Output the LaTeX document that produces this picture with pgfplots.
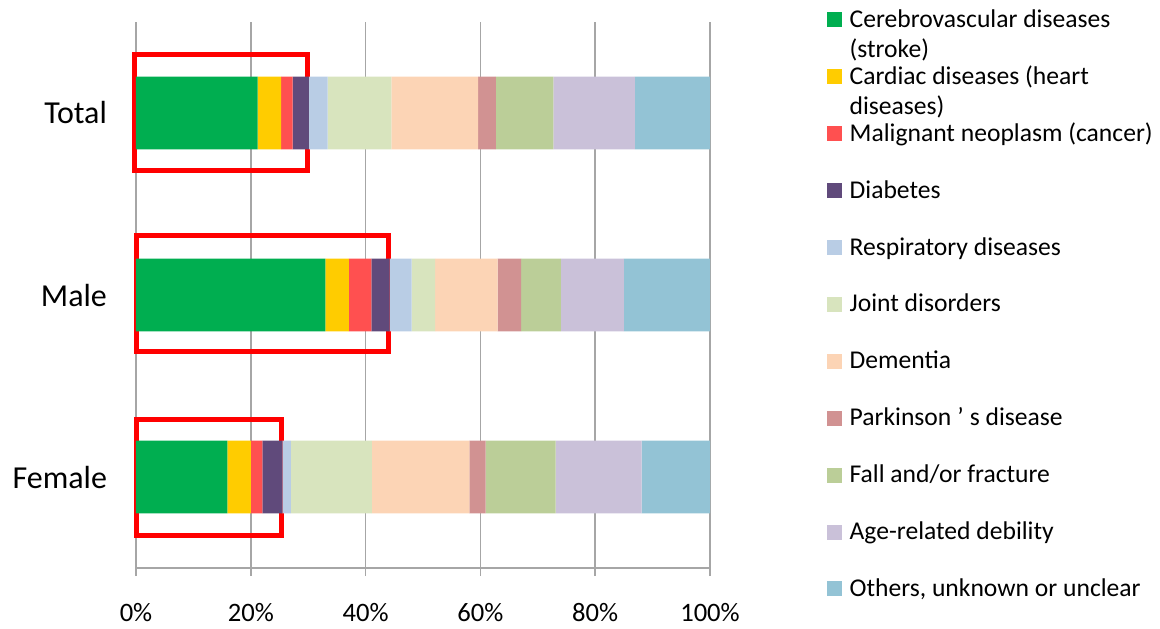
\documentclass[border=0pt]{standalone}
\usepackage{fontspec}
\setmainfont{Carlito}
\usepackage{pgfplots}
\pgfplotsset{compat=1.18}

\definecolor{cStroke}{HTML}{00AE50}
\definecolor{cCardiac}{HTML}{FFCC00}
\definecolor{cCancer}{HTML}{FF5050}
\definecolor{cDiab}{HTML}{604A7B}
\definecolor{cResp}{HTML}{B9CDE5}
\definecolor{cJoint}{HTML}{D8E4BE}
\definecolor{cDem}{HTML}{FCD4B5}
\definecolor{cPark}{HTML}{D19292}
\definecolor{cFall}{HTML}{BBCE98}
\definecolor{cAge}{HTML}{CAC1D9}
\definecolor{cOther}{HTML}{93C3D5}
\definecolor{gridgray}{HTML}{A6A6A6}

% legend entries: fixed height so wrapped lines hang below the row
\newcommand\lentry[1]{\raisebox{0pt}[9pt][3pt]{\begin{tabular}[t]{@{}l@{}}#1\end{tabular}}}

\begin{document}
\begin{tikzpicture}
\path (-68pt,-29pt) rectangle (512pt,284pt);
\begin{axis}[
  at={(0,0)}, anchor=south west,
  scale only axis,
  width=287pt, height=273pt,
  xbar stacked,
  bar width=0.4,
  xmin=0, xmax=100,
  ymin=-0.5, ymax=2.5,
  clip=false,
  axis x line*=bottom,
  axis y line*=left,
  axis line style={gridgray, line width=0.8pt},
  xtick={0,20,40,60,80,100},
  xticklabels={0\%,20\%,40\%,60\%,80\%,100\%},
  xticklabel style={font=\fontsize{13.3}{15}\selectfont, yshift=-10pt},
  ytick={0,1,2},
  yticklabels={Female,Male,Total},
  yticklabel style={font=\fontsize{16}{18}\selectfont, xshift=-7pt},
  minor ytick={-0.5,0.5,1.5,2.5},
  tick align=outside,
  xtick style={gridgray, line width=0.8pt},
  ytick style={draw=none},
  minor tick style={gridgray, line width=0.8pt, draw=gridgray},
  major tick length=4pt,
  minor tick length=5.5pt,
  xmajorgrids,
  grid style={gridgray, line width=0.8pt},
  legend cell align=left,
  legend style={
    at={(1.2025,1.031)}, anchor=north west,
    draw=none, fill=none, inner sep=0pt,
    font=\fontsize{12.8}{15}\selectfont,
    row sep=13.95pt, column sep=2pt,
    nodes={inner sep=2pt},
  },
  legend image code/.code={\fill[#1] (0pt,-3.75pt) rectangle (7.5pt,3.75pt);},
]
\addplot[fill=cStroke, draw=none] coordinates {(21.2,2) (33.0,1) (15.9,0)};
\addlegendentry{\lentry{Cerebrovascular diseases\\(stroke)}}
\addplot[fill=cCardiac, draw=none] coordinates {(4.1,2) (4.1,1) (4.1,0)};
\addlegendentry{\lentry{Cardiac diseases (heart\\diseases)}}
\addplot[fill=cCancer, draw=none] coordinates {(2.0,2) (3.9,1) (2.0,0)};
\addlegendentry{\lentry{Malignant neoplasm (cancer)}}
\addplot[fill=cDiab, draw=none] coordinates {(2.8,2) (3.2,1) (3.5,0)};
\addlegendentry{\lentry{Diabetes}}
\addplot[fill=cResp, draw=none] coordinates {(3.3,2) (3.8,1) (1.5,0)};
\addlegendentry{\lentry{Respiratory diseases}}
\addplot[fill=cJoint, draw=none] coordinates {(11.1,2) (4.1,1) (14.1,0)};
\addlegendentry{\lentry{Joint disorders}}
\addplot[fill=cDem, draw=none] coordinates {(15.1,2) (10.9,1) (17.0,0)};
\addlegendentry{\lentry{Dementia}}
\addplot[fill=cPark, draw=none] coordinates {(3.1,2) (4.1,1) (2.8,0)};
\addlegendentry{\lentry{Parkinson\hspace{3pt}’\hspace{3pt}s disease}}
\addplot[fill=cFall, draw=none] coordinates {(10.0,2) (6.9,1) (12.2,0)};
\addlegendentry{\lentry{Fall and/or fracture}}
\addplot[fill=cAge, draw=none] coordinates {(14.2,2) (11.0,1) (15.0,0)};
\addlegendentry{\lentry{Age-related debility}}
\addplot[fill=cOther, draw=none] coordinates {(13.1,2) (15.0,1) (11.9,0)};
\addlegendentry{\lentry{Others, unknown or unclear}}

% highlight boxes
\draw[red, line width=2.5pt] (axis cs:-0.2,1.685) rectangle (axis cs:29.8,2.32);
\draw[red, line width=2.5pt] (axis cs:0.1,0.69) rectangle (axis cs:44.0,1.325);
\draw[red, line width=2.5pt] (axis cs:0.1,-0.32) rectangle (axis cs:25.3,0.315);
\end{axis}
\end{tikzpicture}
\end{document}
